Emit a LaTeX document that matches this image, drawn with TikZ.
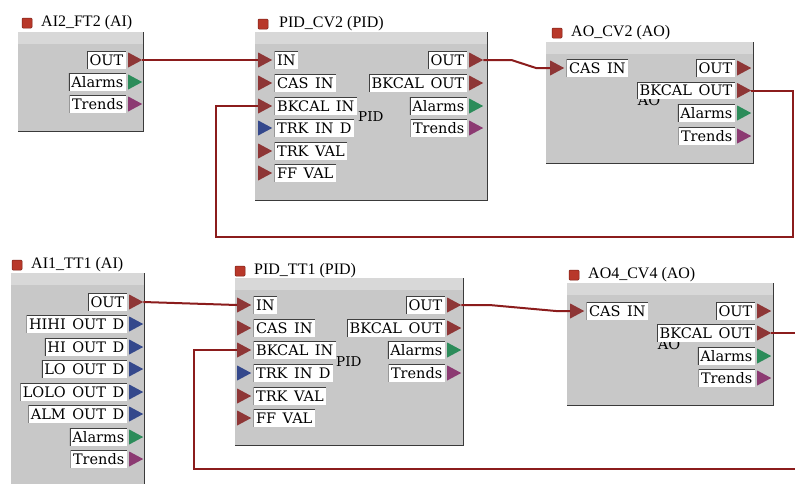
\documentclass[tikz,border=0pt]{standalone}
\usepackage{fontspec}
\newfontfamily\labfont{DejaVu Serif}
\newfontfamily\titfont{Liberation Serif}
\definecolor{boxgrey}{HTML}{C8C8C8}
\definecolor{boxlight}{HTML}{D8D8D8}
\definecolor{boxedgec}{HTML}{3A3A3A}
\definecolor{labedgec}{HTML}{404040}
\definecolor{wirec}{HTML}{8B1C1C}
\definecolor{tred}{HTML}{8E3636}
\definecolor{tblue}{HTML}{34488C}
\definecolor{tgreen}{HTML}{2C8C5A}
\definecolor{tpurple}{HTML}{8C3A72}
\definecolor{sqred}{HTML}{B8382A}
\definecolor{sqdark}{HTML}{7A1F15}
\newcommand{\wsp}{\hspace{0.45em}}
\newcommand{\myoport}[5]{%
  \node[portlabel, anchor=east] (#1l) at (#2,#3) {#4};
  \node[porttri=#5, anchor=west] (#1) at ([xshift=2pt]#1l.east) {};}
\newcommand{\myiport}[5]{%
  \node[porttri=#5, anchor=west] (#1) at (#2,#3) {};
  \node[portlabel, anchor=west] (#1l) at ([xshift=2pt]#1.east) {#4};}
\newcommand{\myblock}[5]{%
  \node[blockbox, minimum width=#4pt, minimum height=#5pt] (#1) at (#2,#3) {};
  \fill[boxlight] (#1.north west) rectangle ([yshift=-12pt]#1.north east);
  \draw[boxedge] (#1.north east) -- (#1.south east) -- (#1.south west);}
\begin{document}
\begin{tikzpicture}[x=1pt,y=-1pt,
  blockbox/.style={fill=boxgrey, draw=none, inner sep=0pt, anchor=north west},
  boxedge/.style={draw=boxedgec, line width=1.2pt},
  portlabel/.style={fill=white, inner xsep=2.5pt, inner ysep=0pt, minimum height=17pt,
    text height=10.5pt, text depth=0pt,
    font=\labfont\fontsize{14.5}{16}\selectfont,
    path picture={\draw[labedgec, line width=1.6pt]
      (path picture bounding box.south west) -- (path picture bounding box.north west)
      -- (path picture bounding box.north east);}},
  porttri/.style={minimum width=14pt, minimum height=15pt, inner sep=0pt,
    path picture={\fill[#1] (path picture bounding box.north west)
      -- (path picture bounding box.east) -- (path picture bounding box.south west) -- cycle;}},
  tsq/.style={minimum size=10pt, inner sep=0pt, fill=sqred, draw=sqdark, line width=0.5pt, rounded corners=1pt},
  titletext/.style={anchor=west, inner sep=0pt, font=\titfont\fontsize{16}{18}\selectfont},
  innertext/.style={inner sep=0pt, font=\labfont\fontsize{13.5}{15}\selectfont},
  wire/.style={draw=wirec, line width=2pt}
]
\clip (0,0) rectangle (795,483);
\fill[white] (0,0) rectangle (795,483);

% ---------- AI2_FT2 ----------
\myblock{ai2}{18}{32}{125}{99}
\node[tsq] (ai2sq) at (27,23) {};
\node[titletext] (ai2t) at (41,23) {AI2\_FT2 (AI)};
\myoport{ai2out}{126}{60}{OUT}{tred}
\myoport{ai2alm}{126}{82}{Alarms}{tgreen}
\myoport{ai2trd}{126}{104}{Trends}{tpurple}

% ---------- PID_CV2 ----------
\myblock{cv2}{255}{32}{232}{168}
\node[tsq] (cv2sq) at (263,24) {};
\node[titletext] (cv2t) at (279,24) {PID\_CV2 (PID)};
\node[innertext, anchor=west] (cv2pid) at (358,117) {PID};
\myiport{cv2in}{258}{60}{IN}{tred}
\myiport{cv2cas}{258}{83}{CAS\wsp IN}{tred}
\myiport{cv2bkin}{258}{106}{BKCAL\wsp IN}{tred}
\myiport{cv2trk}{258}{128}{TRK\wsp IN\wsp D}{tblue}
\myiport{cv2trkv}{258}{151}{TRK\wsp VAL}{tred}
\myiport{cv2ff}{258}{173}{FF\wsp VAL}{tred}
\myoport{cv2out}{467}{60}{OUT}{tred}
\myoport{cv2bkout}{467}{83}{BKCAL\wsp OUT}{tred}
\myoport{cv2alm}{467}{106}{Alarms}{tgreen}
\myoport{cv2trd}{467}{128}{Trends}{tpurple}

% ---------- AO_CV2 ----------
\myblock{aocv2}{546}{42}{207}{121}
\node[tsq] (aocv2sq) at (557,33) {};
\node[titletext] (aocv2t) at (571,33) {AO\_CV2 (AO)};
\node[innertext, font=\labfont\fontsize{14.5}{16}\selectfont] (aocv2ao) at (649,100) {AO};
\myiport{aocas}{550}{68}{CAS\wsp IN}{tred}
\myoport{aocv2out}{735}{68}{OUT}{tred}
\myoport{aocv2bk}{735}{90.5}{BKCAL\wsp OUT}{tred}
\myoport{aocv2alm}{735}{113}{Alarms}{tgreen}
\myoport{aocv2trd}{735}{136}{Trends}{tpurple}

% ---------- AI1_TT1 ----------
\myblock{ai1}{11}{273}{133}{215}
\node[tsq] (ai1sq) at (17,265) {};
\node[titletext] (ai1t) at (31,265) {AI1\_TT1 (AI)};
\myoport{ai1out}{127}{302}{OUT}{tred}
\myoport{ai1hh}{127}{324}{HIHI\wsp OUT\wsp D}{tblue}
\myoport{ai1hi}{127}{347}{HI\wsp OUT\wsp D}{tblue}
\myoport{ai1lo}{127}{369}{LO\wsp OUT\wsp D}{tblue}
\myoport{ai1ll}{127}{392}{LOLO\wsp OUT\wsp D}{tblue}
\myoport{ai1am}{127}{414}{ALM\wsp OUT\wsp D}{tblue}
\myoport{ai1alm}{127}{437}{Alarms}{tgreen}
\myoport{ai1trd}{127}{459}{Trends}{tpurple}

% ---------- PID_TT1 ----------
\myblock{tt1}{235}{278}{228}{167}
\node[tsq] (tt1sq) at (240,271) {};
\node[titletext] (tt1t) at (254,271) {PID\_TT1 (PID)};
\node[innertext, anchor=west] (tt1pid) at (336,362) {PID};
\myiport{tt1in}{237}{305}{IN}{tred}
\myiport{tt1cas}{237}{328}{CAS\wsp IN}{tred}
\myiport{tt1bkin}{237}{350}{BKCAL\wsp IN}{tred}
\myiport{tt1trk}{237}{373}{TRK\wsp IN\wsp D}{tblue}
\myiport{tt1trkv}{237}{396}{TRK\wsp VAL}{tred}
\myiport{tt1ff}{237}{418}{FF\wsp VAL}{tred}
\myoport{tt1out}{445}{305}{OUT}{tred}
\myoport{tt1bkout}{445}{328}{BKCAL\wsp OUT}{tred}
\myoport{tt1alm}{445}{350}{Alarms}{tgreen}
\myoport{tt1trd}{445}{373}{Trends}{tpurple}

% ---------- AO4_CV4 ----------
\myblock{ao4}{567}{283}{206}{122}
\node[tsq] (ao4sq) at (574,275) {};
\node[titletext] (ao4t) at (588,275) {AO4\_CV4 (AO)};
\node[innertext, font=\labfont\fontsize{14.5}{16}\selectfont] (ao4ao) at (669,344) {AO};
\myiport{ao4cas}{570}{311}{CAS\wsp IN}{tred}
\myoport{ao4out}{755}{311}{OUT}{tred}
\myoport{ao4bk}{755}{333}{BKCAL\wsp OUT}{tred}
\myoport{ao4alm}{755}{356}{Alarms}{tgreen}
\myoport{ao4trd}{755}{378}{Trends}{tpurple}

% ---------- wires ----------
\coordinate (r1) at (793,237);
\coordinate (l1) at (216,237);
\coordinate (r2) at (802,469);
\coordinate (l2) at (194,469);
\draw[wire] (ai2out.east) -- (cv2in.west);
\draw[wire] (cv2out.east) -- ++(28,0) -- ([xshift=-14pt]aocas.west) -- (aocas.west);
\draw[wire] (aocv2bk.east) -| (r1) -- (l1) |- (cv2bkin.west);
\draw[wire] (ai1out.east) -- (tt1in.west);
\draw[wire] (tt1out.east) -- ++(28,0) -- ([xshift=-14pt]ao4cas.west) -- (ao4cas.west);
\draw[wire] (ao4bk.east) -| (r2) -- (l2) |- (tt1bkin.west);
\end{tikzpicture}
\end{document}
